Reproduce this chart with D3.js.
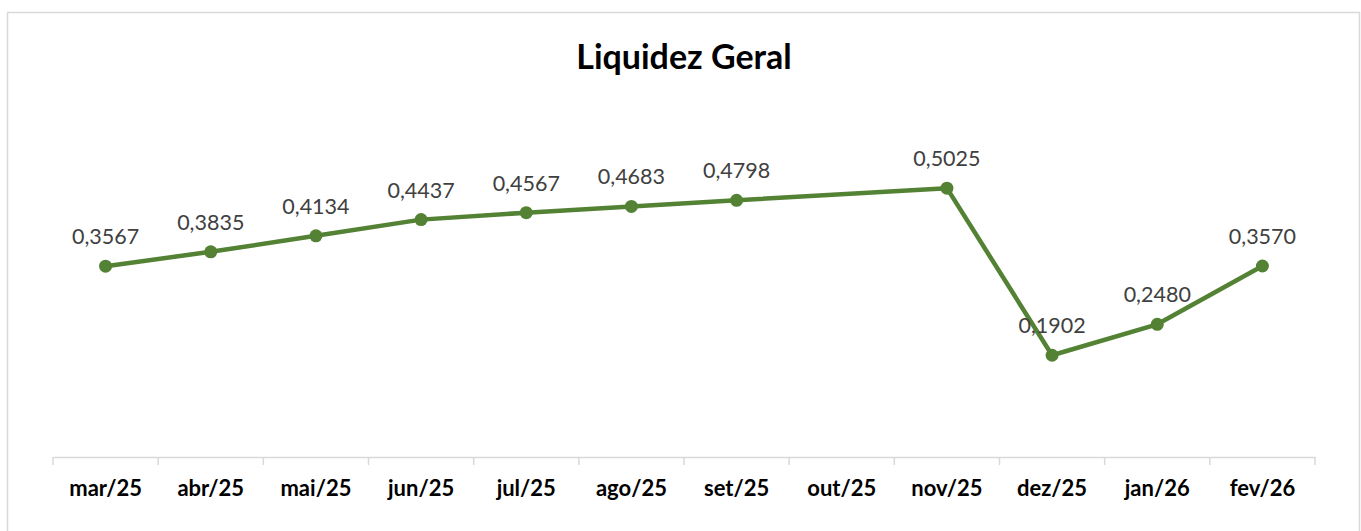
<!DOCTYPE html>
<html><head><meta charset="utf-8">
<script src="https://cdn.jsdelivr.net/npm/d3@7"></script>
<style>body{margin:0;background:#fff}svg{display:block}</style>
</head><body>
<svg id="c" width="1361" height="531"></svg>
<script>
const categories = ["mar/25","abr/25","mai/25","jun/25","jul/25","ago/25","set/25","out/25","nov/25","dez/25","jan/26","fev/26"];
const values = [0.3567,0.3835,0.4134,0.4437,0.4567,0.4683,0.4798,null,0.5025,0.1902,0.2480,0.3570];
const title = "Liquidez Geral";

const svg = d3.select("#c");
const font = "Lato, 'Open Sans', sans-serif";
svg.append("rect").attr("x",7.5).attr("y",12.5).attr("width",1352).attr("height",530)
  .attr("fill","#fff").attr("stroke","#d9d9d9").attr("stroke-width",1.5);

const x = d3.scaleBand().domain(categories).range([53,1315]);
const y = d3.scaleLinear().domain([0,0.6]).range([457,136]);

svg.append("text").attr("x",684).attr("y",69).attr("text-anchor","middle")
  .attr("font-family",font).attr("font-weight","bold").attr("font-size",34).attr("fill","#000").text(title);

const ax = svg.append("g").attr("transform","translate(0,457)")
  .call(d3.axisBottom(x).tickSize(0).tickPadding(23));
ax.select(".domain").attr("stroke","#d9d9d9").attr("stroke-width",1.5);
ax.selectAll("text").attr("font-family",font).attr("font-weight","bold").attr("font-size",22).attr("fill","#000");
const bounds = categories.map(c=>x(c)).concat([x.range()[1]]);
svg.append("g").selectAll("line").data(bounds).join("line")
  .attr("x1",d=>d).attr("x2",d=>d).attr("y1",457).attr("y2",465)
  .attr("stroke","#d9d9d9").attr("stroke-width",1.5);

const pts = categories.map((c,i)=>({c,v:values[i]})).filter(d=>d.v!==null);
const cx = d=>x(d.c)+x.bandwidth()/2;
svg.append("path").datum(pts).attr("fill","none").attr("stroke","#548235").attr("stroke-width",4.5)
  .attr("stroke-linejoin","round")
  .attr("d",d3.line().x(cx).y(d=>y(d.v)));
svg.append("g").selectAll("circle").data(pts).join("circle")
  .attr("cx",cx).attr("cy",d=>y(d.v)).attr("r",6.5).attr("fill","#548235");
svg.append("g").selectAll("text").data(pts).join("text")
  .attr("x",cx).attr("y",d=>y(d.v)-22).attr("text-anchor","middle")
  .attr("font-family",font).attr("font-size",21.5).attr("fill","#404040")
  .text(d=>d.v.toFixed(4).replace(".",","));
</script>
</body></html>
